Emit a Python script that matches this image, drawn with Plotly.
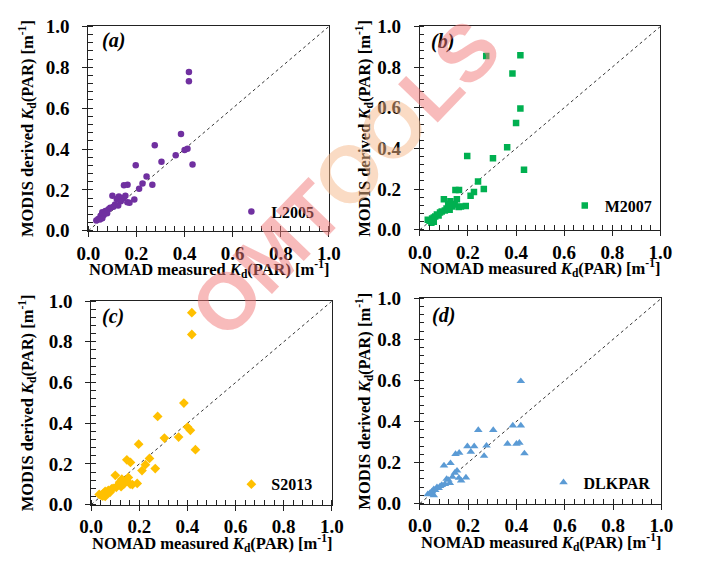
import plotly.graph_objects as go

# shared NOMAD measured Kd(PAR) values (x)
x_meas = [0.418, 0.418, 0.385, 0.412, 0.400, 0.363, 0.433, 0.276, 0.304, 0.197,
          0.242, 0.225, 0.266, 0.211, 0.148, 0.163,
          0.100, 0.127, 0.154, 0.191, 0.145, 0.118, 0.135, 0.162, 0.171, 0.111,
          0.124, 0.104, 0.091, 0.084, 0.071, 0.058, 0.078, 0.051, 0.064, 0.041,
          0.058, 0.033, 0.048]

y_L2005 = [0.777, 0.731, 0.473, 0.401, 0.395, 0.369, 0.324, 0.418, 0.338, 0.321,
           0.266, 0.231, 0.225, 0.206, 0.223, 0.225,
           0.171, 0.168, 0.171, 0.153, 0.160, 0.156, 0.145, 0.140, 0.137, 0.129,
           0.124, 0.118, 0.113, 0.105, 0.097, 0.090, 0.086, 0.074, 0.077, 0.058,
           0.061, 0.050, 0.055]

y_M2007 = [0.858, 0.596, 0.768, None, 0.525, 0.406, 0.295, 0.855, 0.352, 0.363,
           0.237, 0.186, 0.201, 0.167, 0.196, 0.196,
           0.150, 0.140, 0.150, 0.117, 0.125, 0.128, 0.115, 0.112, 0.114, 0.105,
           0.098, 0.095, 0.090, 0.085, 0.075, 0.060, 0.070, 0.055, 0.065, 0.045,
           0.040, 0.050, 0.035]

y_S2013 = [0.943, 0.836, 0.499, 0.365, 0.381, 0.332, 0.270, 0.433, 0.327, 0.297,
           0.227, 0.196, 0.177, 0.167, 0.220, 0.207,
           0.144, 0.125, 0.133, 0.104, 0.120, 0.110, 0.100, 0.101, 0.098, 0.095,
           0.088, 0.085, 0.080, 0.077, 0.070, 0.065, 0.060, 0.055, 0.058, 0.045,
           0.040, 0.050, 0.042]

y_DLKPAR = [0.596, 0.380, 0.380, 0.296, 0.291, 0.291, 0.244, 0.282, 0.358, 0.279,
            0.358, 0.279, 0.232, 0.252, 0.241, 0.247,
            0.185, 0.197, 0.160, 0.127, 0.150, 0.115, 0.130, 0.125, 0.112, 0.120,
            0.100, 0.095, 0.090, 0.085, 0.080, 0.070, 0.075, 0.060, 0.065, 0.050,
            0.040, 0.045, 0.055]

series_names = ["L2005", "M2007", "S2013", "DLKPAR"]
series_y = [y_L2005, y_M2007, y_S2013, y_DLKPAR]
panel_labels = ["(a)", "(b)", "(c)", "(d)"]
one_to_one = [0, 1]

colors = ["#7030A0", "#00B050", "#FFC000", "#5B9BD5"]
symbols = ["circle", "square", "diamond", "triangle-up"]
msizes = [6.5, 6.5, 7.5, 7.5]

W, H = 714, 584
# panel boxes in pixels: left, right, top, bottom
boxes = [(79, 328, 17, 229), (422, 671, 17, 228), (82, 331, 302, 513), (422, 672, 299, 512)]
ytitle_x = [15, 364, 15, 364]

SERIF = "Liberation Serif, Times New Roman, serif"

fig = go.Figure()
layout = dict(width=W, height=H, margin=dict(l=0, r=0, t=0, b=0),
              paper_bgcolor="white", plot_bgcolor="white", showlegend=True)
annotations = []

for i in range(4):
    xa = "x" if i == 0 else f"x{i+1}"
    ya = "y" if i == 0 else f"y{i+1}"
    l, r, t, b = boxes[i]
    common = dict(range=[0, 1], dtick=0.2, tickformat=".1f",
                  showgrid=False, zeroline=False, showline=True, linecolor="#222", linewidth=1,
                  mirror=True, ticks="outside", ticklen=5, tickcolor="#222", tickwidth=1.2,
                  tickfont=dict(family=SERIF, size=19, color="black", weight="bold"),
                  minor=dict(dtick=0.04, ticks="inside", ticklen=4.5,
                             tickcolor="#222", tickwidth=1.2))
    layout["xaxis" if i == 0 else f"xaxis{i+1}"] = dict(
        domain=[l / W, r / W], anchor=ya, ticklabelstandoff=0, **common)
    layout["yaxis" if i == 0 else f"yaxis{i+1}"] = dict(
        domain=[1 - b / H, 1 - t / H], anchor=xa, ticklabelstandoff=9, **common)

    leg = "legend" if i == 0 else f"legend{i+1}"
    fig.add_trace(go.Scatter(x=one_to_one, y=one_to_one, mode="lines",
                             line=dict(color="#333", width=1, dash="dot"),
                             showlegend=False, hoverinfo="skip", xaxis=xa, yaxis=ya))
    fig.add_trace(go.Scatter(x=x_meas, y=series_y[i], mode="markers", name=series_names[i],
                             marker=dict(color=colors[i], symbol=symbols[i], size=msizes[i],
                                         line=dict(width=0)),
                             xaxis=xa, yaxis=ya, legend=leg))

    # legend placement
    leg_px = [(227, 209), (572, 203), (227, 492), (550, 490)][i]
    layout[leg] = dict(x=leg_px[0] / W, y=1 - leg_px[1] / H, xanchor="left", yanchor="middle",
                       bgcolor="rgba(0,0,0,0)", borderwidth=0,
                       font=dict(family=SERIF, size=16, color="black", weight="bold"))

    # panel labels
    lab_px = [(105, 32), (445, 33), (104, 318), (447, 317)][i]
    annotations.append(dict(x=lab_px[0] / W, y=1 - lab_px[1] / H, xref="paper", yref="paper",
                            text=f"<b><i>{panel_labels[i]}</i></b>", showarrow=False,
                            font=dict(family=SERIF, size=20, color="black"),
                            xanchor="center", yanchor="middle"))
    # x axis title
    annotations.append(dict(x=(l + r) / 2 / W, y=1 - (b + 40) / H, xref="paper", yref="paper",
                            text="<b>NOMAD measured <i>K</i><sub>d</sub>(PAR) [m<sup>-1</sup>]</b>",
                            showarrow=False, font=dict(family=SERIF, size=16.5, color="black"),
                            xanchor="center", yanchor="middle"))
    # y axis title
    annotations.append(dict(x=ytitle_x[i] / W, y=1 - ((t + b) / 2) / H, xref="paper", yref="paper",
                            text="<b>MODIS derived <i>K</i><sub>d</sub>(PAR) [m<sup>-1</sup>]</b>",
                            showarrow=False, textangle=-90,
                            font=dict(family=SERIF, size=16.5, color="black"),
                            xanchor="center", yanchor="middle"))

# watermark
annotations.append(dict(x=345 / W, y=1 - 175 / H, xref="paper", yref="paper", showarrow=False,
                        text=("<span style='color:#F27A7A'>OMT</span>"
                              "<span style='color:#F7B98A'>OO</span>"
                              "<span style='color:#F27A7A'>LS</span>"),
                        textangle=-46, opacity=0.5,
                        font=dict(family="Liberation Sans, Arial, sans-serif", size=80, weight="bold"),
                        xanchor="center", yanchor="middle"))

layout["annotations"] = annotations
fig.update_layout(**layout)
fig.write_html("out.html")
